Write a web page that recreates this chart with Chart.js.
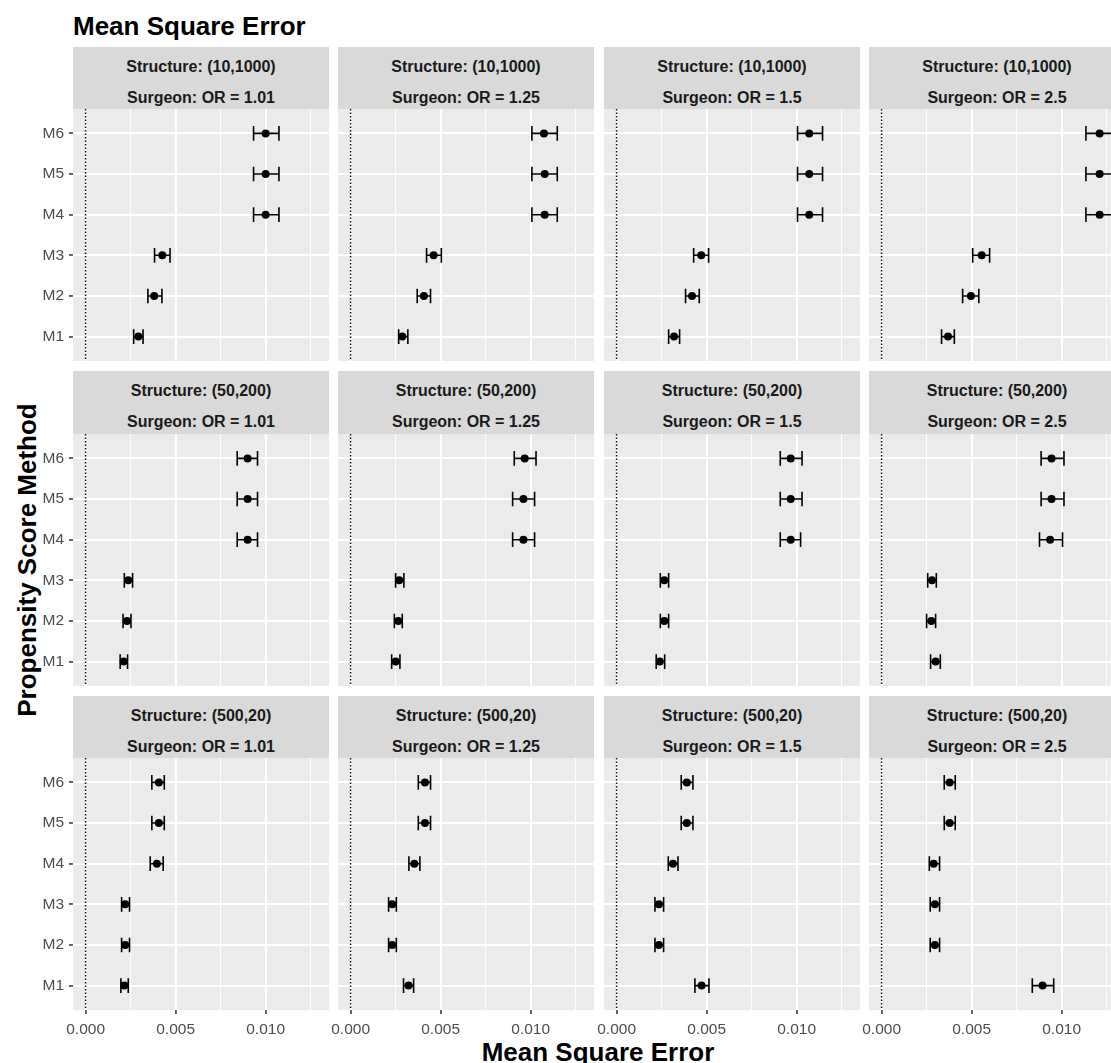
<!DOCTYPE html>
<html>
<head>
<meta charset="utf-8">
<script src="https://cdn.jsdelivr.net/npm/chart.js@4.4.1/dist/chart.umd.min.js"></script>
<style>
  body { margin: 0; background: #fff; }
  #wrap { position: relative; width: 1111px; height: 1063px; overflow: hidden; background: #fff;
          font-family: "Liberation Sans", Arial, sans-serif; }
  .strip { position: absolute; background: #D9D9D9; color: #1A1A1A; font-weight: bold; font-size: 16px;
           line-height: 31px; text-align: center; box-sizing: border-box; padding-top: 4px; white-space: nowrap; }
  .ttl { position: absolute; font-weight: bold; font-size: 26px; line-height: 30px; color: #000; white-space: nowrap; }
  canvas { position: absolute; }
</style>
</head>
<body>
<div id="wrap">
  <div class="ttl" style="left:73px; top:11px;">Mean Square Error</div>
  <div class="ttl" style="left:398px; top:1037px; width:400px; text-align:center;">Mean Square Error</div>
  <div class="ttl" style="left:-173px; top:545px; width:400px; text-align:center; transform:rotate(-90deg);">Propensity Score Method</div>
</div>
<script>
const structures = ['(10,1000)', '(50,200)', '(500,20)'];
const surgeonOR = ['1.01', '1.25', '1.5', '2.5'];
const methods = ['M1', 'M2', 'M3', 'M4', 'M5', 'M6'];
const xTickVals = [0, 0.0025, 0.005, 0.0075, 0.010, 0.0125];
const xTickLabels = ['0.000', '', '0.005', '', '0.010', ''];

// one row per surgeon OR (1.01, 1.25, 1.5, 2.5), values for M1..M6
const mse_10_1000 = [
  [0.00293, 0.00381, 0.00426, 0.01000, 0.01000, 0.01000],
  [0.00287, 0.00407, 0.00461, 0.01078, 0.01078, 0.01074],
  [0.00319, 0.00419, 0.00470, 0.01070, 0.01070, 0.01070],
  [0.00369, 0.00496, 0.00556, 0.01211, 0.01211, 0.01211]
];
const lower_10_1000 = [
  [0.00267, 0.00346, 0.00383, 0.00933, 0.00933, 0.00933],
  [0.00267, 0.00370, 0.00422, 0.01007, 0.01007, 0.01007],
  [0.00289, 0.00383, 0.00428, 0.01005, 0.01005, 0.01005],
  [0.00333, 0.00450, 0.00506, 0.01135, 0.01135, 0.01135]
];
const upper_10_1000 = [
  [0.00319, 0.00424, 0.00469, 0.01074, 0.01074, 0.01074],
  [0.00318, 0.00444, 0.00504, 0.01148, 0.01148, 0.01148],
  [0.00350, 0.00459, 0.00511, 0.01144, 0.01144, 0.01144],
  [0.00404, 0.00540, 0.00600, 0.01287, 0.01287, 0.01287]
];

const mse_50_200 = [
  [0.00211, 0.00230, 0.00237, 0.00900, 0.00900, 0.00900],
  [0.00250, 0.00265, 0.00270, 0.00960, 0.00960, 0.00967],
  [0.00240, 0.00265, 0.00265, 0.00967, 0.00967, 0.00967],
  [0.00300, 0.00276, 0.00280, 0.00936, 0.00944, 0.00944]
];
const lower_50_200 = [
  [0.00192, 0.00208, 0.00215, 0.00842, 0.00842, 0.00842],
  [0.00228, 0.00243, 0.00250, 0.00900, 0.00900, 0.00909],
  [0.00220, 0.00243, 0.00243, 0.00909, 0.00909, 0.00909],
  [0.00272, 0.00250, 0.00256, 0.00877, 0.00886, 0.00886]
];
const upper_50_200 = [
  [0.00233, 0.00252, 0.00261, 0.00955, 0.00955, 0.00955],
  [0.00274, 0.00287, 0.00296, 0.01022, 0.01022, 0.01030],
  [0.00267, 0.00289, 0.00289, 0.01022, 0.01030, 0.01030],
  [0.00326, 0.00300, 0.00304, 0.01005, 0.01013, 0.01013]
];

const mse_500_20 = [
  [0.00215, 0.00220, 0.00220, 0.00396, 0.00407, 0.00407],
  [0.00322, 0.00231, 0.00231, 0.00354, 0.00413, 0.00413],
  [0.00472, 0.00235, 0.00235, 0.00313, 0.00390, 0.00390],
  [0.00894, 0.00296, 0.00296, 0.00289, 0.00378, 0.00378]
];
const lower_500_20 = [
  [0.00196, 0.00200, 0.00200, 0.00359, 0.00368, 0.00368],
  [0.00294, 0.00211, 0.00211, 0.00324, 0.00376, 0.00376],
  [0.00435, 0.00213, 0.00213, 0.00287, 0.00359, 0.00359],
  [0.00837, 0.00270, 0.00270, 0.00265, 0.00348, 0.00348]
];
const upper_500_20 = [
  [0.00237, 0.00244, 0.00244, 0.00431, 0.00437, 0.00437],
  [0.00350, 0.00254, 0.00254, 0.00385, 0.00444, 0.00444],
  [0.00513, 0.00261, 0.00261, 0.00341, 0.00424, 0.00424],
  [0.00956, 0.00322, 0.00322, 0.00322, 0.00409, 0.00409]
];

const mseAll = [mse_10_1000, mse_50_200, mse_500_20];
const lowerAll = [lower_10_1000, lower_50_200, lower_500_20];
const upperAll = [upper_10_1000, upper_50_200, upper_500_20];

// facet layout (pixels)
const panelLeft = [73, 338, 604, 869];
const stripTop = [47, 371, 696];
const plotTop = [109, 434, 758];
const panelW = 256, plotH = 252;
const PAD = 24, PADV = 16;
const capHalf = 0.18;

Chart.defaults.font.family = '"Liberation Sans", Arial, sans-serif';

// grey panel background, dotted zero line and error bars
const panelDecor = {
  id: 'panelDecor',
  beforeDraw(chart) {
    const { ctx, chartArea: a } = chart;
    ctx.save();
    ctx.fillStyle = '#EBEBEB';
    ctx.fillRect(a.left, a.top, a.width, a.height);
    ctx.restore();
  },
  beforeDatasetsDraw(chart) {
    const { ctx, chartArea: a, scales: { x, y } } = chart;
    ctx.save();
    ctx.beginPath();
    ctx.rect(a.left, a.top, a.width, a.height);
    ctx.clip();

    const x0 = x.getPixelForValue(0);
    ctx.setLineDash([1.5, 2]);
    ctx.lineWidth = 1.5;
    ctx.strokeStyle = '#111';
    ctx.beginPath();
    ctx.moveTo(x0, a.top);
    ctx.lineTo(x0, a.bottom);
    ctx.stroke();
    ctx.setLineDash([]);

    const ds = chart.data.datasets[0];
    ctx.lineWidth = 1.6;
    ctx.strokeStyle = '#000';
    ds.data.forEach((p, i) => {
      const xl = x.getPixelForValue(ds.lower[i]);
      const xh = x.getPixelForValue(ds.upper[i]);
      const yc = y.getPixelForValue(p.y);
      const yt = y.getPixelForValue(p.y + capHalf);
      const yb = y.getPixelForValue(p.y - capHalf);
      ctx.beginPath();
      ctx.moveTo(xl, yc); ctx.lineTo(xh, yc);
      ctx.moveTo(xl, yt); ctx.lineTo(xl, yb);
      ctx.moveTo(xh, yt); ctx.lineTo(xh, yb);
      ctx.stroke();
    });
    ctx.restore();
  }
};

const wrap = document.getElementById('wrap');

structures.forEach((st, r) => {
  surgeonOR.forEach((or, c) => {
    // strip
    const strip = document.createElement('div');
    strip.className = 'strip';
    strip.style.left = panelLeft[c] + 'px';
    strip.style.top = stripTop[r] + 'px';
    strip.style.width = panelW + 'px';
    strip.style.height = (plotTop[r] - stripTop[r]) + 'px';
    strip.innerHTML = 'Structure: ' + st + '<br>Surgeon: OR = ' + or;
    wrap.appendChild(strip);

    const yW = c === 0 ? 73 : 0;
    const xH = r === structures.length - 1 ? 40 : 0;
    const cv = document.createElement('canvas');
    const w = PAD + yW + panelW + PAD;
    const h = PADV + plotH + xH + PADV;
    cv.width = w; cv.height = h;
    cv.style.width = w + 'px'; cv.style.height = h + 'px';
    cv.style.left = (panelLeft[c] - yW - PAD) + 'px';
    cv.style.top = (plotTop[r] - PADV) + 'px';
    wrap.appendChild(cv);

    const est = mseAll[r][c];
    new Chart(cv.getContext('2d'), {
      type: 'scatter',
      data: {
        datasets: [{
          data: est.map((v, i) => ({ x: v, y: i + 1 })),
          lower: lowerAll[r][c],
          upper: upperAll[r][c],
          backgroundColor: '#000',
          borderWidth: 0,
          pointRadius: 4,
          pointHoverRadius: 4
        }]
      },
      options: {
        responsive: false,
        animation: false,
        events: [],
        layout: { padding: { left: PAD, right: PAD, top: PADV, bottom: PADV } },
        plugins: { legend: { display: false }, tooltip: { enabled: false } },
        scales: {
          x: {
            type: 'linear',
            min: -0.0007,
            max: 0.01352,
            border: { display: false },
            afterBuildTicks: s => { s.ticks = xTickVals.map(v => ({ value: v })); },
            afterFit: s => { s.height = xH; },
            grid: {
              color: '#ffffff',
              lineWidth: ctx => (ctx.index % 2 === 0 ? 1.9 : 0.95),
              drawTicks: xH > 0,
              tickLength: 4,
              tickWidth: 1.5,
              tickColor: ctx => (ctx.index % 2 === 0 ? '#333333' : 'rgba(0,0,0,0)')
            },
            ticks: {
              display: xH > 0,
              autoSkip: false,
              maxRotation: 0,
              padding: 6,
              color: '#4D4D4D',
              font: { size: 15.5 },
              callback: (v, i) => xTickLabels[i]
            }
          },
          y: {
            type: 'linear',
            min: 0.4,
            max: 6.6,
            border: { display: false },
            afterBuildTicks: s => { s.ticks = methods.map((m, i) => ({ value: i + 1 })); },
            afterFit: s => { s.width = yW; },
            grid: {
              color: '#ffffff',
              lineWidth: 1.9,
              drawTicks: yW > 0,
              tickLength: 4,
              tickWidth: 1.5,
              tickColor: '#333333'
            },
            ticks: {
              display: yW > 0,
              autoSkip: false,
              padding: 5,
              color: '#4D4D4D',
              font: { size: 15.5 },
              callback: (v, i) => methods[i]
            }
          }
        }
      },
      plugins: [panelDecor]
    });
  });
});
</script>
</body>
</html>
